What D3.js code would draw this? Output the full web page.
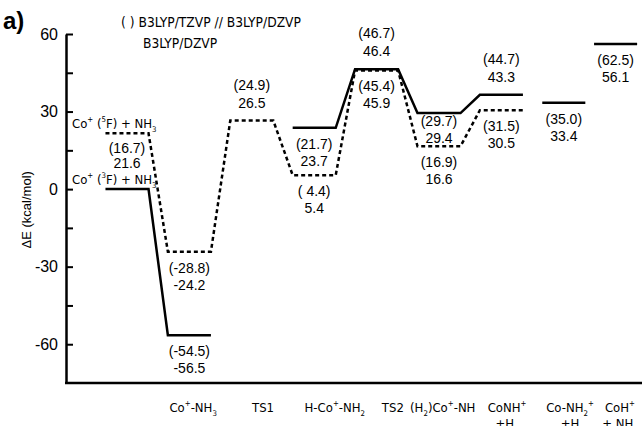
<!DOCTYPE html>
<html>
<head>
<meta charset="utf-8">
<script src="https://cdn.jsdelivr.net/npm/d3@7"></script>
<style>
  body { margin: 0; background: #fff; }
  svg { display: block; }
  .num { font-family: "Liberation Sans", Arial, sans-serif; }
  .lbl { font-family: "DejaVu Sans Condensed", "DejaVu Sans", sans-serif; }
</style>
</head>
<body>
<script>
// Canvas size
var width = 642;
var height = 426;

// Reaction stages (x positions along the reaction coordinate)
var stagePos = [0, 1, 2, 3, 4, 5, 6, 7, 7.83];

// Solid curve: level drawn, B3LYP/DZVP value, (B3LYP/TZVP//B3LYP/DZVP) value
var solidLevel = [0, -56.5, null, 23.7, 46.4, 29.4, 36.5, 33.4, 56.1];
var solidDZVP  = [null, "-56.5", null, "23.7", "46.4", "29.4", "43.3", "33.4", "56.1"];
var solidTZVP  = [null, "(-54.5)", null, "(21.7)", "(46.7)", "(29.7)", "(44.7)", "(35.0)", "(62.5)"];
var solidAbove = [false, false, false, false, true, false, true, false, false];
var solidGroups = [[0, 1], [3, 4, 5, 6], [7], [8]];

// Dashed curve
var dashLevel = [21.6, -24.2, 26.5, 5.4, 45.9, 16.6, 30.5, null, null];
var dashDZVP  = ["21.6", "-24.2", "26.5", "5.4", "45.9", "16.6", "30.5", null, null];
var dashTZVP  = ["(16.7)", "(-28.8)", "(24.9)", "( 4.4)", "(45.4)", "(16.9)", "(31.5)", null, null];
var dashAbove = [false, false, true, false, false, false, false, false, false];
var dashGroups = [[0, 1, 2, 3, 4, 5, 6]];

// Category labels under the axis, parts: [text, "sup" | "sub"]
var catText = [
  [[["Co"], ["+", "sup"], ["-NH"], ["3", "sub"]]],
  [[["TS1"]]],
  [[["H-Co"], ["+", "sup"], ["-NH"], ["2", "sub"]]],
  [[["TS2"]]],
  [[["(H"], ["2", "sub"], [")Co"], ["+", "sup"], ["-NH"]]],
  [[["CoNH"], ["+", "sup"]], [["+H"], ["2", "sub"]]],
  [[["Co-NH"], ["2", "sub"], ["+", "sup"]], [["+H"]]],
  [[["CoH"], ["+", "sup"]], [["+ NH"], ["2", "sub"]]]
];
var catPos = [1.06, 2.18, 3.33, 4.26, 5.06, 6.09, 7.1, 7.9];

var yTicks = [-60, -30, 0, 30, 60];
var yMinor = [-45, -15, 15, 45];

var svg = d3.select("body")
    .append("svg")
    .attr("width", width)
    .attr("height", height);

var x = d3.scaleLinear().domain([0, 1]).range([127, 189.4]);
var y = d3.scaleLinear().domain([-75, 60]).range([383, 34]);
var half = 0.345;

// write text made of parts with super/subscripts
function richText(sel, parts, size) {
    var cur = 0;
    parts.forEach(function (p) {
        var target = p[1] === "sup" ? -size * 0.45 : (p[1] === "sub" ? size * 0.3 : 0);
        var t = sel.append("tspan")
            .attr("dy", target - cur)
            .text(p[0]);
        if (p[1]) t.attr("font-size", size * 0.6);
        cur = target;
    });
}

// Axes
var yAxis = d3.axisLeft(y)
    .tickValues(yTicks)
    .tickSize(-7)
    .tickSizeOuter(0)
    .tickPadding(8)
    .tickFormat(function (d) { return String(d); });

var gy = svg.append("g")
    .attr("transform", "translate(66,0)")
    .call(yAxis);
gy.select(".domain").attr("stroke-width", 2.5);
gy.selectAll(".tick line").attr("stroke-width", 2);
gy.selectAll(".tick text")
    .attr("font-family", "Liberation Sans, Arial, sans-serif")
    .attr("font-size", 16);

svg.append("g")
    .attr("transform", "translate(66,0)")
    .call(d3.axisLeft(y).tickValues(yMinor).tickSize(-7).tickSizeOuter(0).tickFormat(""))
    .call(function (g) { g.select(".domain").remove(); })
    .selectAll(".tick line").attr("stroke-width", 2);

// bottom baseline
svg.append("line")
    .attr("x1", 65).attr("x2", width)
    .attr("y1", y(-75)).attr("y2", y(-75))
    .attr("stroke", "#000").attr("stroke-width", 2.5);

// Y label
svg.append("text")
    .attr("transform", "translate(31," + y(-8) + ") rotate(-90)")
    .attr("text-anchor", "middle")
    .attr("font-family", "Liberation Sans, Arial, sans-serif")
    .attr("font-size", 13)
    .text("\u0394E (kcal/mol)");

// "a)" panel mark
svg.append("text")
    .attr("x", 3).attr("y", 29)
    .attr("font-family", "Liberation Sans, Arial, sans-serif")
    .attr("font-weight", "bold")
    .attr("font-size", 24)
    .text("a)");

// Legend text
svg.append("text").attr("class", "lbl")
    .attr("x", 121).attr("y", 27)
    .attr("font-size", 13.7)
    .text("( ) B3LYP/TZVP // B3LYP/DZVP");
svg.append("text").attr("class", "lbl")
    .attr("x", 143).attr("y", 48)
    .attr("font-size", 13.7)
    .text("B3LYP/DZVP");

// Energy profile paths
function profilePath(levels, groups) {
    return groups.map(function (g) {
        var seg = [];
        g.forEach(function (i) {
            seg.push([x(stagePos[i] - half), y(levels[i])]);
            seg.push([x(stagePos[i] + half), y(levels[i])]);
        });
        return seg;
    });
}
var line = d3.line();

svg.selectAll("path.dash")
    .data(profilePath(dashLevel, dashGroups))
    .enter().append("path")
    .attr("class", "dash")
    .attr("d", line)
    .attr("fill", "none")
    .attr("stroke", "#000")
    .attr("stroke-width", 2.5)
    .attr("stroke-dasharray", "4,3");

svg.selectAll("path.solid")
    .data(profilePath(solidLevel, solidGroups))
    .enter().append("path")
    .attr("class", "solid")
    .attr("d", line)
    .attr("fill", "none")
    .attr("stroke", "#000")
    .attr("stroke-width", 2.5);

// Value labels (tight spacing where two levels sit close together)
function addLabels(levels, dz, tz, above, tight) {
    levels.forEach(function (v, i) {
        if (v === null || dz[i] === null) return;
        var cx = x(stagePos[i]);
        var y1, y2;
        if (above[i]) { y1 = y(v) - 31; y2 = y(v) - 13; }
        else if (tight === i) { y1 = y(v) + 13; y2 = y(v) + 30; }
        else if (i === 0) { y1 = y(v) + 20; y2 = y(v) + 35; }
        else { y1 = y(v) + 21; y2 = y(v) + 38; }
        svg.append("text").attr("class", "num")
            .attr("x", cx).attr("y", y1).attr("text-anchor", "middle")
            .attr("font-size", 14).text(tz[i]);
        svg.append("text").attr("class", "num")
            .attr("x", cx).attr("y", y2).attr("text-anchor", "middle")
            .attr("font-size", 14).text(dz[i]);
    });
}
addLabels(solidLevel, solidDZVP, solidTZVP, solidAbove, 5);
addLabels(dashLevel, dashDZVP, dashTZVP, dashAbove, -1);

// Reactant labels
var reactants = [
    { level: dashLevel[0], parts: [["Co"], ["+", "sup"], [" ("], ["5", "sup"], ["F) + NH"], ["3", "sub"]] },
    { level: solidLevel[0], parts: [["Co"], ["+", "sup"], [" ("], ["3", "sup"], ["F) + NH"], ["3", "sub"]] }
];
reactants.forEach(function (r) {
    var t = svg.append("text").attr("class", "lbl")
        .attr("x", 72).attr("y", y(r.level) - 5)
        .attr("font-size", 13);
    richText(t, r.parts, 13);
});

// Category labels
catText.forEach(function (lines, i) {
    lines.forEach(function (parts, k) {
        var t = svg.append("text").attr("class", "lbl")
            .attr("x", x(catPos[i])).attr("y", 412 + k * 16)
            .attr("text-anchor", "middle")
            .attr("font-size", 13);
        richText(t, parts, 13);
    });
});
</script>
</body>
</html>
